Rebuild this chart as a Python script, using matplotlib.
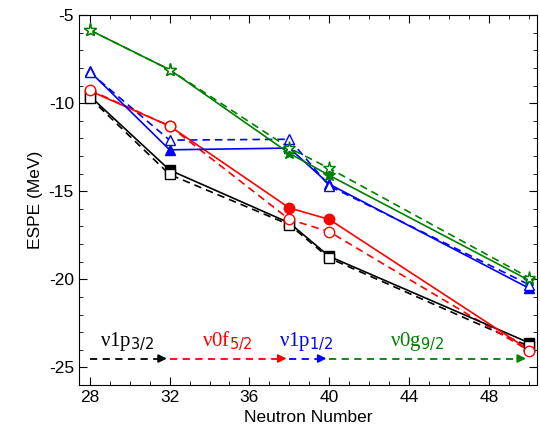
import matplotlib
matplotlib.use("Agg")
import matplotlib.pyplot as plt
import numpy as np

#----Datos----
N = [28, 32, 38, 40, 50]

p32_sol = [-9.6, -13.8, -16.8, -18.7, -23.6]
p32_das = [-9.7, -14.05, -16.9, -18.8, -23.8]
f52_sol = [-9.3, -11.3, -15.95, -16.6, -24.0]
f52_das = [-9.25, -11.3, -16.6, -17.3, -24.05]
p12_sol = [-8.2, -12.65, -12.55, -14.6, -20.5]
p12_das = [-8.25, -12.1, -12.05, -14.7, -20.3]
g92_sol = [-5.85, -8.1, -12.85, -14.1, -20.05]
g92_das = [-5.85, -8.1, -12.55, -13.7, -19.9]

# orbitas de la parte baja
orb_lim = [28, 32, 38, 40, 50]
orb_lab = ["ν1p$_{3/2}$", "ν0f$_{5/2}$", "ν1p$_{1/2}$", "ν0g$_{9/2}$"]
orb_xt = [29.85, 34.9, 38.85, 44.4]
orb_y = -24.5

plt.rcParams['font.family'] = ['Liberation Sans', 'DejaVu Sans']
plt.rcParams['axes.unicode_minus'] = False

fig = plt.figure(figsize=(5.4, 4.44), dpi=100)
ax = fig.add_axes([0.146, 0.133, 0.848, 0.833])

colores = ['black', 'red', 'blue', 'green']
marcas = ['s', 'o', '^', '*']
sol = [p32_sol, f52_sol, p12_sol, g92_sol]
das = [p32_das, f52_das, p12_das, g92_das]

for c, m, ys, yd in zip(colores, marcas, sol, das):
    ms = 9.5 if m == '*' else 7.5
    ax.plot(N, yd, '--', color=c, lw=1.2, dashes=(4.5, 3), zorder=2)
    ax.plot(N, ys, '-', color=c, lw=1.2, marker=m, ms=ms, mfc=c, mec=c, zorder=3)
    ax.plot(N, yd, 'none', marker=m, ms=ms, mfc='white', mec=c, mew=1.0, zorder=4)

#----Flechas----
for i, c in enumerate(colores):
    x0, x1 = orb_lim[i], orb_lim[i + 1]
    ax.plot([x0, x1 - 0.6], [orb_y, orb_y], '--', color=c, lw=1.3, dashes=(4, 3))
    ax.annotate('', xy=(x1, orb_y), xytext=(x1 - 0.7, orb_y),
                arrowprops=dict(arrowstyle='-|>', color=c, lw=1.3, mutation_scale=12))
    ax.text(orb_xt[i], orb_y + 0.3, orb_lab[i], color=c, ha='center', va='bottom',
            fontsize=15, family=['Liberation Serif', 'DejaVu Serif'],
            math_fontfamily='dejavusans')

ax.set_xlim(27.45, 50.4)
ax.set_ylim(-26, -5)
ax.set_xticks(np.arange(28, 50, 4))
ax.set_yticks(np.arange(-25, -4, 5))
ax.set_xticks(np.arange(28, 51, 1), minor=True)
ax.set_yticks(np.arange(-26, -4, 1), minor=True)
ax.tick_params(which='both', direction='in', top=True, right=True, labelsize=12.5)
ax.tick_params(which='major', length=6)
ax.tick_params(which='minor', length=3)
ax.set_xlabel("Neutron Number", fontsize=12.5)
ax.set_ylabel("ESPE (MeV)", fontsize=12.5)

fig.savefig("out.png", dpi=100)
